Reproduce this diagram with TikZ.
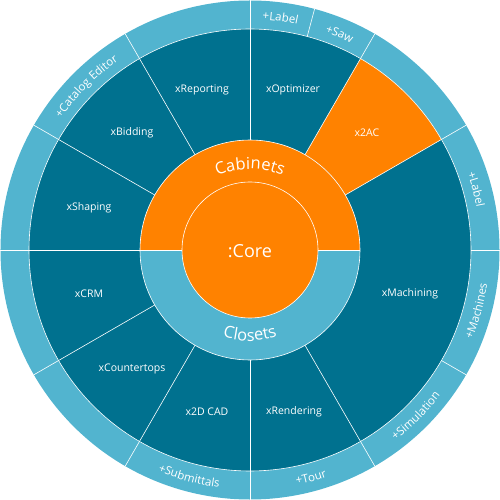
\documentclass[tikz,border=0pt]{standalone}
\usepackage{fontspec}
\setmainfont{Open Sans}
\usetikzlibrary{decorations.text}
\definecolor{darkteal}{HTML}{00718F}
\definecolor{lightblue}{HTML}{52B4CF}
\definecolor{orng}{HTML}{FF8200}
\tikzset{
  sep/.style={draw=white, line width=0.6pt},
  lbl/.style={text=white, font=\fontsize{10.5}{12}\selectfont, inner sep=0pt},
  ringtext/.style={decorate, decoration={text along path, text align=center, text color=white,
     text={|\fontsize{11.5}{13}\selectfont|#1}}},
  midtext/.style={decorate, decoration={text along path, text align=center, text color=white,
     text={|\fontsize{16.5}{18}\selectfont|#1}}},
}
\begin{document}
\begin{tikzpicture}[x=1pt,y=1pt]
\useasboundingbox (-250,-250) rectangle (250,250);
% rings
\fill[lightblue] (0,0) circle (249.5);
\fill[darkteal] (0,0) circle (221);
\fill[orng] (0,0) -- (30:221) arc[start angle=30,end angle=60,radius=221] -- cycle;
\fill[lightblue] (0,0) circle (110);
\fill[orng] (110,0) arc[start angle=0,end angle=180,radius=110] -- cycle;
\fill[orng] (0,0) circle (68);
% separators
\draw[sep] (0,0) circle (221);
\draw[sep] (0,0) circle (110);
\draw[sep] (0,0) circle (68);
\draw[sep] (-110,0) -- (-68,0);
\draw[sep] (68,0) -- (110,0);
\foreach \a in {30,60,...,300} \draw[sep] (\a:110) -- (\a:221);
\foreach \a in {0,30,60,75,90,120,150,180,210,240,270,300,330} \draw[sep] (\a:221) -- (\a:249.5);
% sector labels
\node[lbl] (reporting) at (-48,160) {xReporting};
\node[lbl] (optimizer) at (43,160) {xOptimizer};
\node[lbl] (twoac) at (117,117) {x2AC};
\node[lbl] (bidding) at (-118,117) {xBidding};
\node[lbl] (shaping) at (-161,42) {xShaping};
\node[lbl] (crm) at (-161,-44) {xCRM};
\node[lbl] (countertops) at (-118,-119) {xCountertops};
\node[lbl] (cad) at (-43,-162) {x2D CAD};
\node[lbl] (rendering) at (44,-162) {xRendering};
\node[lbl] (machining) at (160,-44) {xMachining};
\node[text=white, font=\fontsize{18}{20}\selectfont, inner sep=0pt] (core) at (0,-1) {:Core};
% inner ring curved labels
\path[midtext=Cabinets] (180:81) arc[start angle=180,end angle=0,radius=81];
\path[midtext=Closets] (180:91) arc[start angle=180,end angle=360,radius=91];
% outer ring curved labels (top: clockwise)
\path[ringtext=+Label] (90:230.5) arc[start angle=90,end angle=75,radius=230.5];
\path[ringtext=+Saw] (75:230.5) arc[start angle=75,end angle=60,radius=230.5];
\path[ringtext=+Catalog Editor] (150:230.5) arc[start angle=150,end angle=120,radius=230.5];
\path[ringtext=+Label] (30:230.5) arc[start angle=30,end angle=0,radius=230.5];
% bottom: counterclockwise
\path[ringtext=+Machines] (330:239.5) arc[start angle=330,end angle=360,radius=239.5];
\path[ringtext=+Simulation] (300:239.5) arc[start angle=300,end angle=330,radius=239.5];
\path[ringtext=+Tour] (270:239.5) arc[start angle=270,end angle=300,radius=239.5];
\path[ringtext=+Submittals] (240:239.5) arc[start angle=240,end angle=270,radius=239.5];
\end{tikzpicture}
\end{document}
